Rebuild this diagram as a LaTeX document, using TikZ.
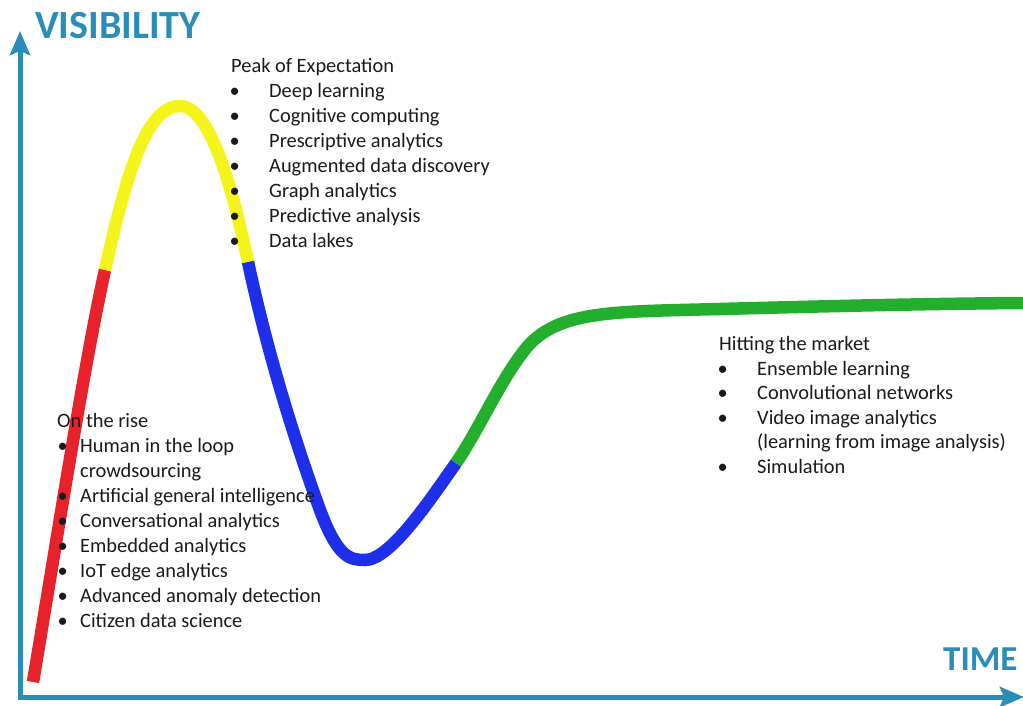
\documentclass[tikz,border=0pt]{standalone}
\usepackage{fontspec}
\setmainfont{Carlito}
\usetikzlibrary{arrows.meta}
\usepackage{xcolor}
\definecolor{axisteal}{HTML}{2A8DB8}
\definecolor{hypered}{HTML}{E8222A}
\definecolor{hypeyellow}{HTML}{F4F41A}
\definecolor{hypeblue}{HTML}{1D2FEA}
\definecolor{hypegreen}{HTML}{24AE2E}
\definecolor{txt}{HTML}{1A1A1A}

\begin{document}
\begin{tikzpicture}[
  x=1pt, y=-1pt,
  axis/.style={line width=5pt, color=axisteal, {Stealth[length=24pt,width=20pt,inset=4pt]}-{Stealth[length=24pt,width=20pt,inset=4pt]}},
  axislabel/.style={anchor=base west, inner sep=0, text=axisteal, font=\fontsize{40}{40}\selectfont\bfseries},
  hype/.style={line width=12.5pt},
  head/.style={anchor=base west, inner sep=0, text=txt, font=\fontsize{20.4}{24}\selectfont},
  entry/.style={head, text height=14pt, text depth=5pt},
  dot/.style={inner sep=0, text=txt, text height=14pt, text depth=5pt, font=\fontsize{20.4}{24}\selectfont},
  wide/.style={entry, label={[dot, label distance=29pt]left:\textbullet}},
  narrow/.style={entry, label={[dot, label distance=12pt]left:\textbullet}},
]
\useasboundingbox (0,0) rectangle (1023,706);

% axes
\coordinate (ytip) at (20,31);
\coordinate (org) at (20,697);
\coordinate (xtip) at (1024,697);
\draw[axis] (ytip) -- (org) -- (xtip);
\node[axislabel] (vis) at (35,39) {VISIBILITY};
\node[axislabel, font=\fontsize{35}{35}\selectfont\bfseries] (time) at (943,670) {TIME};

% hype curve
\coordinate (c0) at (33,682);
\coordinate (c1) at (105,270);
\coordinate (c2) at (180,106);
\coordinate (c3) at (248,262);
\coordinate (c4) at (320,510);
\coordinate (c5) at (365,560);
\coordinate (c6) at (456,463);
\coordinate (c7) at (527,347);
\coordinate (c8) at (680,310);
\coordinate (c9) at (1023,303);

\draw[hype, hypered] (c0) .. controls (60,520) and (85,360) .. (c1);
\draw[hype, hypeyellow] (c1) .. controls (125,180) and (145,106) .. (c2)
  .. controls (212,106) and (235,200) .. (c3);
\draw[hype, hypeblue] (c3) .. controls (270,365) and (300,455) .. (c4)
  .. controls (338,558) and (350,560) .. (c5)
  .. controls (390,560) and (430,500) .. (c6);
\draw[hype, hypegreen] (c6) .. controls (480,428) and (500,380) .. (c7)
  .. controls (555,315) and (600,312) .. (c8)
  .. controls (800,307) and (900,304) .. (c9);

% peak of expectation
\node[head] (peak) at (231,73) {Peak of Expectation};
\node[wide] (pk1) at (269,97.9) {Deep learning};
\node[wide] (pk2) at (269,122.8) {Cognitive computing};
\node[wide] (pk3) at (269,147.7) {Prescriptive analytics};
\node[wide] (pk4) at (269,172.6) {Augmented data discovery};
\node[wide] (pk5) at (269,197.5) {Graph analytics};
\node[wide] (pk6) at (269,222.4) {Predictive analysis};
\node[wide] (pk7) at (269,247.3) {Data lakes};

% on the rise
\node[head] (rise) at (57,427) {On the rise};
\node[narrow] (rs1) at (80,452) {Human in the loop};
\node[entry] (rs1b) at (80,477) {crowdsourcing};
\node[narrow] (rs2) at (80,502) {Artificial general intelligence};
\node[narrow] (rs3) at (80,527) {Conversational analytics};
\node[narrow] (rs4) at (80,552) {Embedded analytics};
\node[narrow] (rs5) at (80,577) {IoT edge analytics};
\node[narrow] (rs6) at (80,602) {Advanced anomaly detection};
\node[narrow] (rs7) at (80,627) {Citizen data science};

% hitting the market
\node[head] (market) at (719,350) {Hitting the market};
\node[wide] (mk1) at (757,375) {Ensemble learning};
\node[wide] (mk2) at (757,399.6) {Convolutional networks};
\node[wide] (mk3) at (757,424.2) {Video image analytics};
\node[entry] (mk3b) at (757,448.8) {(learning from image analysis)};
\node[wide] (mk4) at (757,473.4) {Simulation};

\end{tikzpicture}
\end{document}
